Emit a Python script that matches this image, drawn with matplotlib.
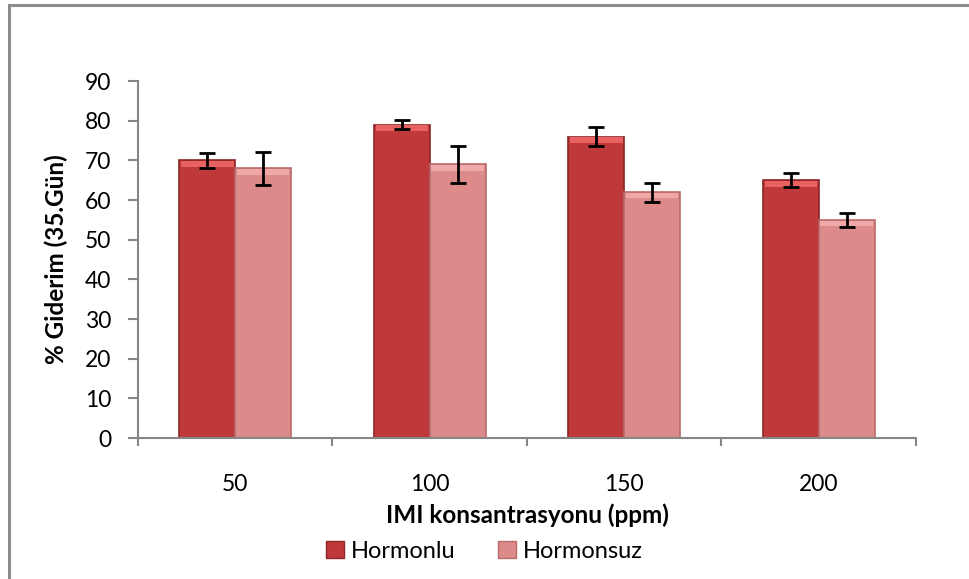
import matplotlib.pyplot as plt
import matplotlib.patches as mpatches
import numpy as np

plt.rcParams['font.family'] = ['Lato', 'DejaVu Sans']

categories = ['50', '100', '150', '200']
hormonlu = [70, 79, 76, 65]
hormonlu_err = [1.8, 1.2, 2.4, 1.7]
hormonsuz = [68, 69, 62, 55]
hormonsuz_err = [4.1, 4.6, 2.4, 1.8]
series_names = ['Hormonlu', 'Hormonsuz']

fig = plt.figure(figsize=(9.69, 5.79), dpi=100)
ax = fig.add_axes([0.1424, 0.2435, 0.8029, 0.6165])

# outer chart border
fig.patches.append(mpatches.Rectangle((0.0095, -0.01), 1.0, 1.0 - 0.0086 + 0.01,
                                      transform=fig.transFigure, fill=False,
                                      edgecolor='#8c8c8c', linewidth=2.2))

x = np.arange(len(categories))
w = 0.287
face = ['#c0393a', '#dc8a8a']
edge = ['#8e2526', '#b96a6a']
top = ['#e86262', '#f0a8a8']

for i, (vals, errs) in enumerate([(hormonlu, hormonlu_err), (hormonsuz, hormonsuz_err)]):
    pos = x + (i - 0.5) * w
    ax.bar(pos, vals, w, color=face[i], edgecolor=edge[i], linewidth=1.2,
           label=series_names[i], zorder=2)
    # light bevel at the top of each bar
    ax.bar(pos, [1.4] * len(vals), w * 0.94, bottom=np.array(vals) - 1.6,
           color=top[i], linewidth=0, zorder=3)
    ax.errorbar(pos, vals, yerr=errs, fmt='none', ecolor='black', elinewidth=2,
                capsize=6, capthick=2, zorder=4)

ax.set_xlim(-0.5, len(categories) - 0.5)
ax.set_ylim(0, 90)
ax.set_yticks(np.arange(0, 91, 10))
ax.set_xticks(x)
ax.set_xticklabels(categories)
ax.set_xticks(np.arange(-0.5, len(categories)), minor=True)

for s in ['top', 'right']:
    ax.spines[s].set_visible(False)
for s in ['left', 'bottom']:
    ax.spines[s].set_color('#868686')
    ax.spines[s].set_linewidth(1.5)

ax.tick_params(axis='y', colors='#868686', labelcolor='black', length=7,
               width=1.5, pad=12, labelsize=16.5)
ax.tick_params(axis='x', which='major', length=0, pad=26, labelsize=16.5,
               labelcolor='black')
ax.tick_params(axis='x', which='minor', length=6, width=1.5, colors='#868686')

ax.set_ylabel('% Giderim (35.Gün)', fontsize=17.5, fontweight='bold', labelpad=12)
ax.set_xlabel('IMI konsantrasyonu (ppm)', fontsize=17.5, fontweight='bold',
              labelpad=6)

handles = [mpatches.Patch(facecolor=face[i], edgecolor=edge[i]) for i in range(2)]
fig.legend(handles, series_names, loc='center', bbox_to_anchor=(0.50, 0.048),
           ncol=2, frameon=False, fontsize=17, handlelength=0.75,
           handleheight=0.75, handletextpad=0.3, columnspacing=1.8)

fig.savefig('out.png', dpi=100)
